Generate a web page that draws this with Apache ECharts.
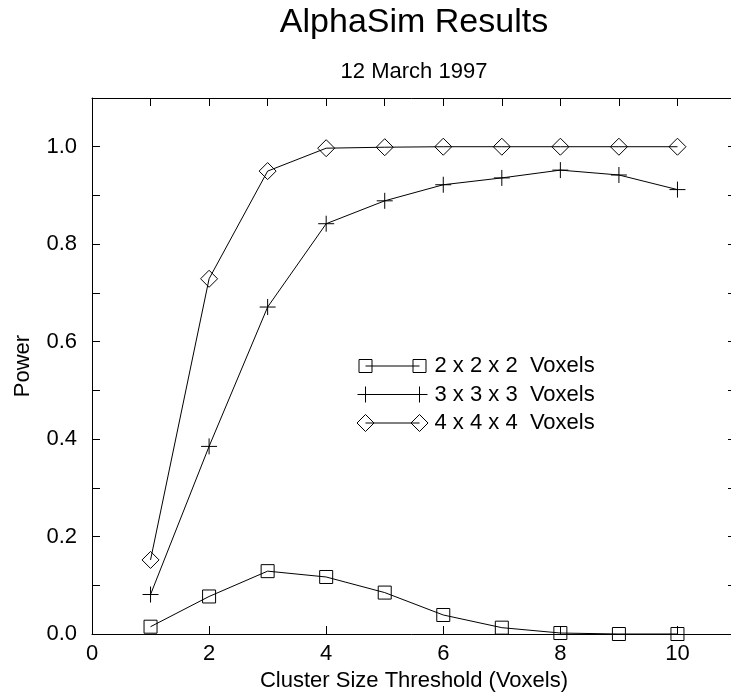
<!DOCTYPE html>
<html><head><meta charset="utf-8">
<script src="https://cdn.jsdelivr.net/npm/echarts@6/dist/echarts.min.js"></script>
<style>html,body{margin:0;padding:0;background:#fff}#c{width:731px;height:700px}</style>
</head><body><div id="c"></div>
<script>
const thresholds = [1, 2, 3, 4, 5, 6, 7, 8, 9, 10];
const seriesNames = ['2 x 2 x 2  Voxels', '3 x 3 x 3  Voxels', '4 x 4 x 4  Voxels'];
const power2 = [0.015, 0.077, 0.129, 0.117, 0.085, 0.039, 0.013, 0.002, 0.0, 0.0];
const power3 = [0.081, 0.385, 0.671, 0.842, 0.889, 0.922, 0.936, 0.952, 0.942, 0.912];
const power4 = [0.152, 0.729, 0.950, 0.997, 0.999, 1.0, 1.0, 1.0, 1.0, 1.0];
const xTickLabels = ['0', '2', '4', '6', '8', '10'];
const yTickLabels = ['0.0', '0.2', '0.4', '0.6', '0.8', '1.0'];

const FONT = '"Liberation Sans", Arial, Helvetica, sans-serif';
const pair = (ys) => thresholds.map((x, i) => [x, ys[i]]);

const markStyle = { color: 'rgba(0,0,0,0)', borderColor: '#000', borderWidth: 1 };
const lineStyle = { color: '#000', width: 1 };

const legendIcons = [
  'path://M0,0M72,18M2.5,2.5H15.5V15.5H2.5ZM9,9H63M56.5,2.5H69.5V15.5H56.5Z',
  'path://M0,0M72,18M1,9H71M9,1V17M63,1V17',
  'path://M0,0M72,18M0.5,9L9,0.5L17.5,9L9,17.5ZM9,9H63M54.5,9L63,0.5L71.5,9L63,17.5Z'
];
const symbols = ['rect', 'path://M0,8H16M8,0V16', 'diamond'];
const symbolSizes = [13, 16, 17];
const values = [power2, power3, power4];

const axisCommon = {
  type: 'value',
  axisLine: { show: true, onZero: false, lineStyle: { color: '#000', width: 1 } },
  axisTick: { show: true, inside: true, length: 8, lineStyle: { color: '#000', width: 1 } },
  splitLine: { show: false }
};

const chart = echarts.init(document.getElementById('c'), null, { renderer: 'canvas' });
chart.setOption({
  animation: false,
  backgroundColor: '#fff',
  title: [
    { text: 'AlphaSim Results', left: 414, top: 6, textAlign: 'center', padding: 0,
      textStyle: { fontFamily: FONT, fontSize: 34, fontWeight: 'normal', color: '#000' } },
    { text: '12 March 1997', left: 414, top: 61, textAlign: 'center', padding: 0,
      textStyle: { fontFamily: FONT, fontSize: 22, fontWeight: 'normal', color: '#000' } }
  ],
  grid: { left: 92, width: 644, top: 98, bottom: 66, containLabel: false, outerBoundsMode: 'none' },
  legend: {
    orient: 'vertical', left: 356, top: 355, padding: 0,
    itemWidth: 72, itemHeight: 18, itemGap: 6.5, selectedMode: false,
    itemStyle: markStyle,
    textStyle: { fontFamily: FONT, fontSize: 22, color: '#000', padding: [0, 0, 0, 1] },
    data: seriesNames.map((n, i) => ({ name: n, icon: legendIcons[i] }))
  },
  xAxis: [
    Object.assign({}, axisCommon, {
      position: 'bottom', min: 0, max: 11, interval: 2,
      name: 'Cluster Size Threshold (Voxels)', nameLocation: 'middle', nameGap: 35,
      nameTextStyle: { fontFamily: FONT, fontSize: 22, color: '#000' },
      axisLabel: { show: true, margin: 9, fontFamily: FONT, fontSize: 22, color: '#000',
        formatter: v => xTickLabels.includes(String(v)) ? String(v) : '' }
    }),
    Object.assign({}, axisCommon, {
      position: 'top', min: 0, max: 11, interval: 1,
      axisLabel: { show: false }
    })
  ],
  yAxis: [
    Object.assign({}, axisCommon, {
      position: 'left', min: 0, max: 1.1, interval: 0.1,
      name: 'Power', nameLocation: 'middle', nameGap: 58, nameRotate: 90,
      nameTextStyle: { fontFamily: FONT, fontSize: 22, color: '#000' },
      axisLabel: { show: true, margin: 15, fontFamily: FONT, fontSize: 22, color: '#000',
        formatter: v => { const s = (Math.round(v * 10) / 10).toFixed(1); return yTickLabels.includes(s) ? s : ''; } }
    }),
    Object.assign({}, axisCommon, {
      position: 'right', min: 0, max: 1.1, interval: 0.1,
      axisLabel: { show: false }
    })
  ],
  series: seriesNames.map((n, i) => ({
    name: n, type: 'line', xAxisIndex: 0, yAxisIndex: 0,
    data: pair(values[i]),
    symbol: symbols[i], symbolSize: symbolSizes[i], showAllSymbol: true,
    itemStyle: markStyle, lineStyle: lineStyle,
    emphasis: { disabled: true }, clip: false
  }))
});
</script></body></html>
